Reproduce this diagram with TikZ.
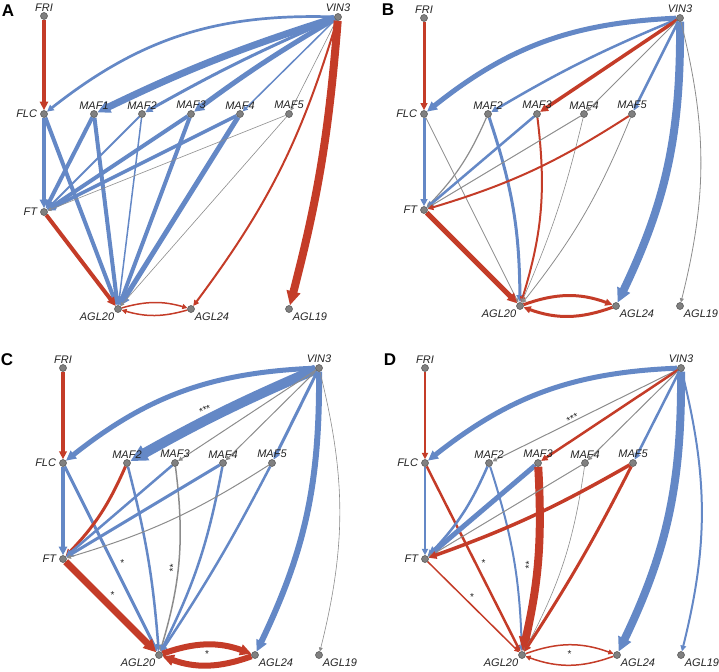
\documentclass[tikz,border=0pt]{standalone}
\usepackage{fontspec}
\setsansfont{Liberation Sans}
\usepackage{xcolor}
\usepackage{tikz}
\usetikzlibrary{arrows.meta,backgrounds}

\definecolor{edgeblue}{RGB}{100,136,198}
\definecolor{edgered}{RGB}{196,60,40}
\definecolor{edgegray}{RGB}{140,140,140}
\definecolor{nodegray}{RGB}{128,128,128}
\definecolor{nodeborder}{RGB}{80,80,80}
\definecolor{labeltext}{RGB}{35,35,35}

\begin{document}
\begin{tikzpicture}[
    x=1pt, y=1pt,
    gene/.style={circle, draw=nodeborder, fill=nodegray, line width=0.5pt, inner sep=0pt, minimum size=7pt},
    lbl/.style={font=\fontsize{11}{11}\selectfont\sffamily\itshape, text=labeltext, inner sep=1pt},
    lbll/.style={lbl, label distance=2pt},
    panel/.style={font=\fontsize{17}{17}\selectfont\sffamily\bfseries, inner sep=0pt},
    sig/.style={font=\fontsize{10}{10}\selectfont\sffamily, text=labeltext, inner sep=1pt},
    edge/.style={-{Triangle[length=3pt 1.4, width=3pt 1.3]}},
    bedge/.style={edge, draw=edgeblue, line width=#1pt},
    redge/.style={edge, draw=edgered, line width=#1pt},
    gedge/.style={edge, draw=edgegray, line width=#1pt}
]
\useasboundingbox (0,0) rectangle (719,-671);

% Panel A
\node[panel] (lblA) at (8,-11) {A};
\node[gene, label={[lbl]above:FRI}] (aFRI) at (44,-16) {};
\node[gene, label={[lbl]above:VIN3}] (aVIN3) at (338,-17) {};
\node[gene, label={[lbll]left:FLC}] (aFLC) at (44,-114) {};
\node[gene, label={[lbl]above:MAF1}] (aMAF1) at (94,-114) {};
\node[gene, label={[lbl]above:MAF2}] (aMAF2) at (142,-114) {};
\node[gene, label={[lbl]above:MAF3}] (aMAF3) at (191,-114) {};
\node[gene, label={[lbl]above:MAF4}] (aMAF4) at (240,-114) {};
\node[gene, label={[lbl]above:MAF5}] (aMAF5) at (289,-114) {};
\node[gene, label={[lbll]left:FT}] (aFT) at (44,-212) {};
\node[gene, label={[lbl]below left:AGL20}] (aAGL20) at (118,-309) {};
\node[gene, label={[lbl]below right:AGL24}] (aAGL24) at (191,-309) {};
\node[gene, label={[lbl]below right:AGL19}] (aAGL19) at (289,-309) {};

% Panel B
\node[panel] (lblB) at (388,-10) {B};
\node[gene, label={[lbl]above:FRI}] (bFRI) at (424,-18) {};
\node[gene, label={[lbl]above:VIN3}] (bVIN3) at (680,-18) {};
\node[gene, label={[lbll]left:FLC}] (bFLC) at (424,-114) {};
\node[gene, label={[lbl]above:MAF2}] (bMAF2) at (488,-114) {};
\node[gene, label={[lbl]above:MAF3}] (bMAF3) at (537,-114) {};
\node[gene, label={[lbl]above:MAF4}] (bMAF4) at (584,-114) {};
\node[gene, label={[lbl]above:MAF5}] (bMAF5) at (632,-114) {};
\node[gene, label={[lbll]left:FT}] (bFT) at (424,-210) {};
\node[gene, label={[lbl]below left:AGL20}] (bAGL20) at (520,-306) {};
\node[gene, label={[lbl]below right:AGL24}] (bAGL24) at (616,-306) {};
\node[gene, label={[lbl]below right:AGL19}] (bAGL19) at (680,-306) {};

% Panel C
\node[panel] (lblC) at (7,-360) {C};
\node[gene, label={[lbl]above:FRI}] (cFRI) at (63,-368) {};
\node[gene, label={[lbl]above:VIN3}] (cVIN3) at (319,-368) {};
\node[gene, label={[lbll]left:FLC}] (cFLC) at (63,-463) {};
\node[gene, label={[lbl]above:MAF2}] (cMAF2) at (127,-463) {};
\node[gene, label={[lbl]above:MAF3}] (cMAF3) at (175,-463) {};
\node[gene, label={[lbl]above:MAF4}] (cMAF4) at (223,-463) {};
\node[gene, label={[lbl]above:MAF5}] (cMAF5) at (272,-463) {};
\node[gene, label={[lbll]left:FT}] (cFT) at (63,-559) {};
\node[gene, label={[lbl]below left:AGL20}] (cAGL20) at (159,-655) {};
\node[gene, label={[lbl]below right:AGL24}] (cAGL24) at (255,-655) {};
\node[gene, label={[lbl]below right:AGL19}] (cAGL19) at (319,-655) {};

% Panel D
\node[panel] (lblD) at (390,-360) {D};
\node[gene, label={[lbl]above:FRI}] (dFRI) at (425,-368) {};
\node[gene, label={[lbl]above:VIN3}] (dVIN3) at (681,-368) {};
\node[gene, label={[lbll]left:FLC}] (dFLC) at (425,-463) {};
\node[gene, label={[lbl]above:MAF2}] (dMAF2) at (489,-463) {};
\node[gene, label={[lbl]above:MAF3}] (dMAF3) at (538,-463) {};
\node[gene, label={[lbl]above:MAF4}] (dMAF4) at (585,-463) {};
\node[gene, label={[lbl]above:MAF5}] (dMAF5) at (633,-463) {};
\node[gene, label={[lbll]left:FT}] (dFT) at (425,-559) {};
\node[gene, label={[lbl]below left:AGL20}] (dAGL20) at (522,-655) {};
\node[gene, label={[lbl]below right:AGL24}] (dAGL24) at (617,-655) {};
\node[gene, label={[lbl]below right:AGL19}] (dAGL19) at (681,-655) {};

\begin{scope}[on background layer]
% Edges A
\draw[redge=4] (aFRI) -- (aFLC);
\draw[bedge=2.7] (aVIN3) to[bend right=20] (aFLC);
\draw[bedge=7] (aVIN3) to[bend right=4] (aMAF1);
\draw[bedge=3] (aVIN3) to[bend right=3] (aMAF2);
\draw[bedge=5] (aVIN3) to[bend right=3] (aMAF3);
\draw[bedge=1.5] (aVIN3) -- (aMAF4);
\draw[gedge=0.6] (aVIN3) -- (aMAF5);
\draw[redge=2] (aVIN3) to[bend left=10] (aAGL24);
\draw[redge=8] (aVIN3) to[bend left=5] (aAGL19);
\draw[bedge=4] (aFLC) -- (aFT);
\draw[bedge=4] (aFLC) -- (aAGL20);
\draw[bedge=4] (aMAF1) -- (aFT);
\draw[bedge=4] (aMAF1) -- (aAGL20);
\draw[bedge=2] (aMAF2) -- (aFT);
\draw[bedge=1.5] (aMAF2) -- (aAGL20);
\draw[bedge=4] (aMAF3) -- (aFT);
\draw[bedge=4] (aMAF3) -- (aAGL20);
\draw[bedge=3.5] (aMAF4) -- (aFT);
\draw[bedge=5] (aMAF4) -- (aAGL20);
\draw[gedge=0.6] (aMAF5) -- (aFT);
\draw[gedge=0.6] (aMAF5) -- (aAGL20);
\draw[redge=4] (aFT) -- (aAGL20);
\draw[redge=1.5] (aAGL20) to[bend left=16] (aAGL24);
\draw[redge=1.5] (aAGL24) to[bend left=16] (aAGL20);

% Edges B
\draw[redge=3] (bFRI) -- (bFLC);
\draw[bedge=5] (bVIN3) to[bend right=18] (bFLC);
\draw[bedge=2.5] (bVIN3) to[bend right=4] (bMAF2);
\draw[redge=3.5] (bVIN3) -- (bMAF3);
\draw[gedge=1] (bVIN3) -- (bMAF4);
\draw[bedge=2.5] (bVIN3) -- (bMAF5);
\draw[bedge=8] (bVIN3) to[bend left=13] (bAGL24);
\draw[gedge=0.8] (bVIN3) to[bend left=14] (bAGL19);
\draw[bedge=3] (bFLC) -- (bFT);
\draw[gedge=0.8] (bFLC) -- (bAGL20);
\draw[gedge=1.2] (bMAF2) to[bend left=10] (bFT);
\draw[bedge=3] (bMAF2) to[bend left=9] (bAGL20);
\draw[bedge=2.5] (bMAF3) -- (bFT);
\draw[redge=2] (bMAF3) to[bend left=12] (bAGL20);
\draw[gedge=1] (bMAF4) -- (bFT);
\draw[gedge=0.6] (bMAF4) to[bend left=5] (bAGL20);
\draw[redge=2] (bMAF5) to[bend left=8] (bFT);
\draw[gedge=0.8] (bMAF5) to[bend left=8] (bAGL20);
\draw[redge=5] (bFT) -- (bAGL20);
\draw[redge=3] (bAGL20) to[bend left=20] (bAGL24);
\draw[redge=3] (bAGL24) to[bend left=20] (bAGL20);

% Edges C
\draw[redge=3.5] (cFRI) -- (cFLC);
\draw[bedge=5] (cVIN3) to[bend right=18] (cFLC);
\draw[bedge=10] (cVIN3) to[bend right=3] node[sig, pos=.57, sloped, above=0pt] {***} (cMAF2);
\draw[gedge=1] (cVIN3) -- (cMAF3);
\draw[gedge=1] (cVIN3) -- (cMAF4);
\draw[bedge=3] (cVIN3) -- (cMAF5);
\draw[bedge=6] (cVIN3) to[bend left=13] (cAGL24);
\draw[gedge=0.6] (cVIN3) to[bend left=14] (cAGL19);
\draw[bedge=4] (cFLC) -- (cFT);
\draw[bedge=3] (cFLC) -- node[sig, pos=.52, right=5pt] {*} (cAGL20);
\draw[redge=3] (cMAF2) to[bend left=10] (cFT);
\draw[bedge=2.5] (cMAF2) to[bend left=5] (cAGL20);
\draw[bedge=2.5] (cMAF3) -- (cFT);
\draw[gedge=1.5] (cMAF3) to[bend left=12] node[sig, pos=.55, sloped, above=0pt] {**} (cAGL20);
\draw[bedge=3] (cMAF4) -- (cFT);
\draw[bedge=2.5] (cMAF4) to[bend left=8] (cAGL20);
\draw[gedge=1] (cMAF5) to[bend left=8] (cFT);
\draw[bedge=2.5] (cMAF5) to[bend left=3] (cAGL20);
\draw[redge=7] (cFT) -- node[sig, pos=.37, right=7pt] {*} (cAGL20);
\draw[redge=6] (cAGL20) to[bend left=20] node[sig, pos=.5, below=2pt] {*} (cAGL24);
\draw[redge=6] (cAGL24) to[bend left=20] (cAGL20);

% Edges D
\draw[redge=2.5] (dFRI) -- (dFLC);
\draw[bedge=5] (dVIN3) to[bend right=18] (dFLC);
\draw[gedge=1] (dVIN3) -- node[sig, pos=.56, sloped, above=-2pt] {***} (dMAF2);
\draw[redge=2.5] (dVIN3) -- (dMAF3);
\draw[gedge=1] (dVIN3) -- (dMAF4);
\draw[bedge=2.5] (dVIN3) -- (dMAF5);
\draw[bedge=8] (dVIN3) to[bend left=13] (dAGL24);
\draw[bedge=2] (dVIN3) to[bend left=14] (dAGL19);
\draw[bedge=2.5] (dFLC) -- (dFT);
\draw[redge=2.5] (dFLC) -- node[sig, pos=.52, right=4pt] {*} (dAGL20);
\draw[bedge=2.5] (dMAF2) to[bend left=10] (dFT);
\draw[bedge=2] (dMAF2) to[bend left=8] (dAGL20);
\draw[bedge=5] (dMAF3) -- (dFT);
\draw[redge=8] (dMAF3) to[bend left=8] node[sig, pos=.54, sloped, above=0pt] {**} (dAGL20);
\draw[gedge=1] (dMAF4) -- (dFT);
\draw[gedge=0.6] (dMAF4) to[bend left=10] (dAGL20);
\draw[redge=3.5] (dMAF5) to[bend left=5] (dFT);
\draw[redge=3] (dMAF5) to[bend left=3] (dAGL20);
\draw[redge=1.5] (dFT) -- node[sig, pos=.39, right=5pt] {*} (dAGL20);
\draw[redge=1.5] (dAGL20) to[bend left=20] node[sig, pos=.5, below=4pt] {*} (dAGL24);
\draw[redge=1.5] (dAGL24) to[bend left=20] (dAGL20);
\end{scope}

\end{tikzpicture}
\end{document}
